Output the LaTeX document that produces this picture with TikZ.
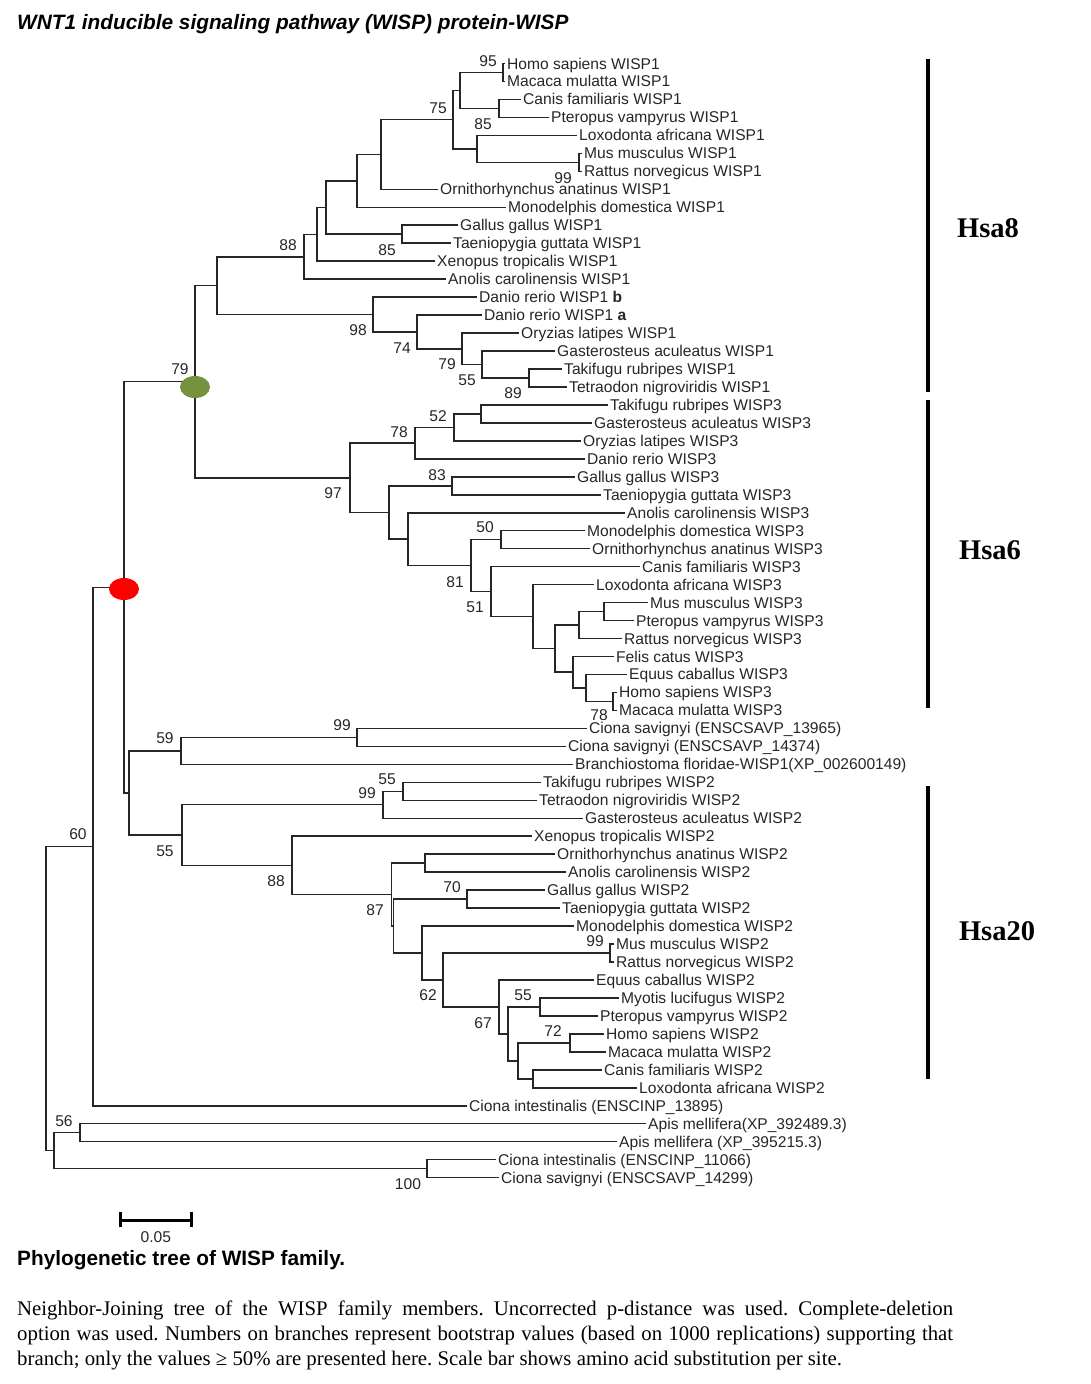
\documentclass[tikz,border=0pt]{standalone}
\usepackage{fontspec}
\setmainfont{Liberation Sans}
\newfontfamily\capserif{Liberation Serif}
\usepackage{tikz}
\usetikzlibrary{shapes.geometric}
\definecolor{nodegreen}{RGB}{118,146,60}
\definecolor{nodered}{RGB}{255,0,0}
\newcommand\treefont{\fontsize{15.6}{18}\selectfont}
\newcommand\headfont{\fontsize{20.8}{25}\selectfont}
\frenchspacing

\begin{document}
\begin{tikzpicture}[x=1pt,y=-1pt,
  br/.style={line width=1.5pt,black!85},
  leaf/.style={anchor=west,inner xsep=2pt,inner ysep=0pt,text height=11pt,text depth=0pt,font=\treefont,text=black!85},
  boot/.style={inner sep=0pt,text height=11pt,text depth=0pt,font=\treefont,text=black!85},
  dupdot/.style={ellipse,minimum width=30pt,minimum height=22pt,inner sep=0pt},
  clbar/.style={line width=4pt},
  clname/.style={font=\capserif\bfseries\fontsize{28.5}{30}\selectfont}]
\useasboundingbox (0,0) rectangle (1090,1384);
% ---------------- title ----------------
\node[anchor=base west,inner sep=0pt,font=\headfont\bfseries\itshape] (title) at (17,29)
  {WNT1 inducible signaling pathway (WISP) protein-WISP};
% ---------------- leaves (one row every 17.97 units) ----------------
\foreach \lx/\txt [count=\i] in {
  505/Homo sapiens WISP1, 505/Macaca mulatta WISP1, 521/Canis familiaris WISP1,
  549/Pteropus vampyrus WISP1, 577/Loxodonta africana WISP1, 582/Mus musculus WISP1,
  582/Rattus norvegicus WISP1, 438/Ornithorhynchus anatinus WISP1, 506/Monodelphis domestica WISP1,
  458/Gallus gallus WISP1, 451/Taeniopygia guttata WISP1, 435/Xenopus tropicalis WISP1,
  446/Anolis carolinensis WISP1, 477/Danio rerio WISP1 \textbf{b}, 482/Danio rerio WISP1 \textbf{a},
  519/Oryzias latipes WISP1, 555/Gasterosteus aculeatus WISP1, 562/Takifugu rubripes WISP1,
  567/Tetraodon nigroviridis WISP1,
  608/Takifugu rubripes WISP3, 592/Gasterosteus aculeatus WISP3, 581/Oryzias latipes WISP3,
  585/Danio rerio WISP3, 575/Gallus gallus WISP3, 601/Taeniopygia guttata WISP3,
  625/Anolis carolinensis WISP3, 585/Monodelphis domestica WISP3, 590/Ornithorhynchus anatinus WISP3,
  640/Canis familiaris WISP3, 594/Loxodonta africana WISP3, 648/Mus musculus WISP3,
  634/Pteropus vampyrus WISP3, 622/Rattus norvegicus WISP3, 614/Felis catus WISP3,
  627/Equus caballus WISP3, 617/Homo sapiens WISP3, 617/Macaca mulatta WISP3,
  587/Ciona savignyi (ENSCSAVP\_13965), 566/Ciona savignyi (ENSCSAVP\_14374),
  573/Branchiostoma floridae-WISP1(XP\_002600149),
  541/Takifugu rubripes WISP2, 537/Tetraodon nigroviridis WISP2, 583/Gasterosteus aculeatus WISP2,
  532/Xenopus tropicalis WISP2, 555/Ornithorhynchus anatinus WISP2, 566/Anolis carolinensis WISP2,
  545/Gallus gallus WISP2, 560/Taeniopygia guttata WISP2, 574/Monodelphis domestica WISP2,
  614/Mus musculus WISP2, 614/Rattus norvegicus WISP2, 594/Equus caballus WISP2,
  619/Myotis lucifugus WISP2, 598/Pteropus vampyrus WISP2, 604/Homo sapiens WISP2,
  606/Macaca mulatta WISP2, 602/Canis familiaris WISP2, 637/Loxodonta africana WISP2,
  467/Ciona intestinalis (ENSCINP\_13895), 646/Apis mellifera(XP\_392489.3),
  617/Apis mellifera (XP\_395215.3), 496/Ciona intestinalis (ENSCINP\_11066),
  499/Ciona savignyi (ENSCSAVP\_14299)}
  \node[leaf] (l\i) at (\lx,{63.5+17.97*(\i-1)}) {\txt};
% ---------------- inner nodes: WISP1 ----------------
\coordinate (w1hm) at (503,72.5);   \coordinate (w1cp) at (499,108.4);  \coordinate (w1a) at (460,90.5);
\coordinate (w1mr) at (579,162.4);  \coordinate (w1lmr) at (477,148.9); \coordinate (w1b) at (453,119.7);
\coordinate (w1c) at (381,154.5);   \coordinate (w1d) at (357,180.9);   \coordinate (w1gt) at (402,234.2);
\coordinate (w1e) at (326,207.6);   \coordinate (w1f) at (317,234.4);   \coordinate (w1g) at (304,256.8);
\coordinate (w1l) at (529,378.0);   \coordinate (w1k) at (482,364.5);   \coordinate (w1j) at (462,348.8);
\coordinate (w1i) at (417,332.0);   \coordinate (w1h) at (373,314.5);   \coordinate (w1m) at (217,285.6);
% ---------------- inner nodes: WISP3 ----------------
\coordinate (w3tg) at (481,413.9);  \coordinate (w3p52) at (454,427.4); \coordinate (w3p78) at (415,443.1);
\coordinate (w3p83) at (452,485.8); \coordinate (w3p50) at (501,539.7); \coordinate (w3mp) at (604,611.6);
\coordinate (w3r) at (579,625.0);   \coordinate (w3hm) at (613,701.4);  \coordinate (w3t) at (586,687.9);
\coordinate (w3s) at (573,672.2);   \coordinate (w3q) at (555,648.6);   \coordinate (w3z) at (533,616.6);
\coordinate (w3p51) at (491,591.6); \coordinate (w3p81) at (471,565.7); \coordinate (w3y) at (408,539.2);
\coordinate (w3x) at (389,512.5);   \coordinate (w3root) at (350,477.8); \coordinate (green) at (195,381.7);
% ---------------- inner nodes: WISP2 and outgroups ----------------
\coordinate (ci99) at (357,737.4);  \coordinate (p59) at (181,750.8);   \coordinate (w2p55) at (403,791.3);
\coordinate (w2p99) at (383,804.7); \coordinate (w2oa) at (425,863.1);  \coordinate (w2p70) at (467,899.1);
\coordinate (w2mr) at (610,953.0);  \coordinate (w2p72) at (570,1042.8); \coordinate (w2cl) at (533,1078.8);
\coordinate (w2c) at (518,1060.8);  \coordinate (w2p55b) at (540,1006.9); \coordinate (w2b) at (508,1033.8);
\coordinate (w2p67) at (499,1006.9); \coordinate (w2a) at (443,979.9);  \coordinate (w2p62) at (422,953.0);
\coordinate (w2p87b) at (393.5,926.0); \coordinate (w2p87) at (391.5,894.6); \coordinate (w2p88) at (292,865.4);
\coordinate (p55) at (182,835.1);   \coordinate (pin) at (129,792.9);   \coordinate (red) at (124,587.3);
\coordinate (p60) at (93,846.5);    \coordinate (p56) at (80,1132.7);   \coordinate (p100) at (427,1168.6);
\coordinate (bas) at (54,1150.6);   \coordinate (root) at (46,998.6);
% ---------------- branches ----------------
\foreach \pa/\ch in {
  w1hm/l1.west, w1hm/l2.west, w1cp/l3.west, w1cp/l4.west, w1a/w1hm, w1a/w1cp,
  w1mr/l6.west, w1mr/l7.west, w1lmr/l5.west, w1lmr/w1mr, w1b/w1a, w1b/w1lmr,
  w1c/w1b, w1c/l8.west, w1d/w1c, w1d/l9.west, w1gt/l10.west, w1gt/l11.west,
  w1e/w1d, w1e/w1gt, w1f/w1e, w1f/l12.west, w1g/w1f, w1g/l13.west,
  w1l/l18.west, w1l/l19.west, w1k/l17.west, w1k/w1l, w1j/l16.west, w1j/w1k,
  w1i/l15.west, w1i/w1j, w1h/l14.west, w1h/w1i, w1m/w1g, w1m/w1h,
  w3tg/l20.west, w3tg/l21.west, w3p52/w3tg, w3p52/l22.west, w3p78/w3p52, w3p78/l23.west,
  w3p83/l24.west, w3p83/l25.west, w3p50/l27.west, w3p50/l28.west, w3mp/l31.west, w3mp/l32.west,
  w3r/w3mp, w3r/l33.west, w3hm/l36.west, w3hm/l37.west, w3t/l35.west, w3t/w3hm,
  w3s/l34.west, w3s/w3t, w3q/w3r, w3q/w3s, w3z/l30.west, w3z/w3q,
  w3p51/l29.west, w3p51/w3z, w3p81/w3p50, w3p81/w3p51, w3y/l26.west, w3y/w3p81,
  w3x/w3p83, w3x/w3y, w3root/w3p78, w3root/w3x, green/w1m, green/w3root,
  ci99/l38.west, ci99/l39.west, p59/ci99, p59/l40.west,
  w2p55/l41.west, w2p55/l42.west, w2p99/w2p55, w2p99/l43.west,
  w2oa/l45.west, w2oa/l46.west, w2p70/l47.west, w2p70/l48.west,
  w2mr/l50.west, w2mr/l51.west, w2p72/l55.west, w2p72/l56.west, w2cl/l57.west, w2cl/l58.west,
  w2c/w2p72, w2c/w2cl, w2p55b/l53.west, w2p55b/l54.west, w2b/w2p55b, w2b/w2c,
  w2p67/l52.west, w2p67/w2b, w2a/w2mr, w2a/w2p67, w2p62/l49.west, w2p62/w2a,
  w2p87b/w2p70, w2p87b/w2p62, w2p87/w2oa, w2p87/w2p87b, w2p88/l44.west, w2p88/w2p87,
  p55/w2p99, p55/w2p88, pin/p59, pin/p55, red/green, red/pin,
  p60/red, p60/l59.west, p56/l60.west, p56/l61.west, p100/l62.west, p100/l63.west,
  bas/p56, bas/p100, root/p60, root/bas}
  \draw[br] (\pa) |- (\ch);
% duplication marks
\node[dupdot,fill=nodegreen] (gdot) at (195,387) {};
\node[dupdot,fill=nodered] (rdot) at (124,589) {};
% ---------------- bootstrap values ----------------
\foreach \bx/\by/\bv [count=\j] in {
  488/61/95, 438/108/75, 483/124/85, 563/178/99, 387/250/85, 288/245/88,
  358/330/98, 402/348/74, 447/364/79, 467/380/55, 513/393/89, 180/369/79,
  438/416/52, 399/432/78, 437/475/83, 333/493/97, 485/527/50, 455/582/81,
  475/607/51, 599/715/78, 342/725/99, 165/738/59, 387/779/55, 367/793/99,
  78/834/60, 165/851/55, 276/881/88, 375/910/87, 452/887/70, 595/941/99,
  428/995/62, 523/995/55, 483/1023/67, 553/1031/72, 64/1121/56, 408/1184/100}
  \node[boot] (b\j) at (\bx,\by) {\bv};
% ---------------- scale bar ----------------
\draw[line width=3pt] (120,1212) -- (120,1227) (120,1220) -- (191.7,1220) (191.7,1212) -- (191.7,1227);
\node[boot] (scale) at (155.8,1237) {0.05};
% ---------------- clusters ----------------
\draw[clbar] (927.7,59) -- (927.7,391.7);
\draw[clbar] (927.7,400) -- (927.7,708.3);
\draw[clbar] (927.7,786) -- (927.7,1079);
\node[clname] (hsa8) at (988,228) {Hsa8};
\node[clname] (hsa6) at (990,550) {Hsa6};
\node[clname] (hsa20) at (997,931) {Hsa20};
% ---------------- caption ----------------
\node[anchor=base west,inner sep=0pt,font=\headfont\bfseries] (head) at (17,1265)
  {Phylogenetic tree of WISP family.};
\node[anchor=base west,inner sep=0pt,font=\capserif\headfont] (cap1) at (17,1315)
  {\makebox[936pt][s]{Neighbor-Joining tree of the WISP family members. Uncorrected p-distance was used. Complete-deletion}};
\node[anchor=base west,inner sep=0pt,font=\capserif\headfont] (cap2) at (17,1340)
  {\makebox[936pt][s]{option was used. Numbers on branches represent bootstrap values (based on 1000 replications) supporting that}};
\node[anchor=base west,inner sep=0pt,font=\capserif\headfont] (cap3) at (17,1365)
  {branch; only the values ≥ 50\% are presented here. Scale bar shows amino acid substitution per site.};
\end{tikzpicture}
\end{document}
